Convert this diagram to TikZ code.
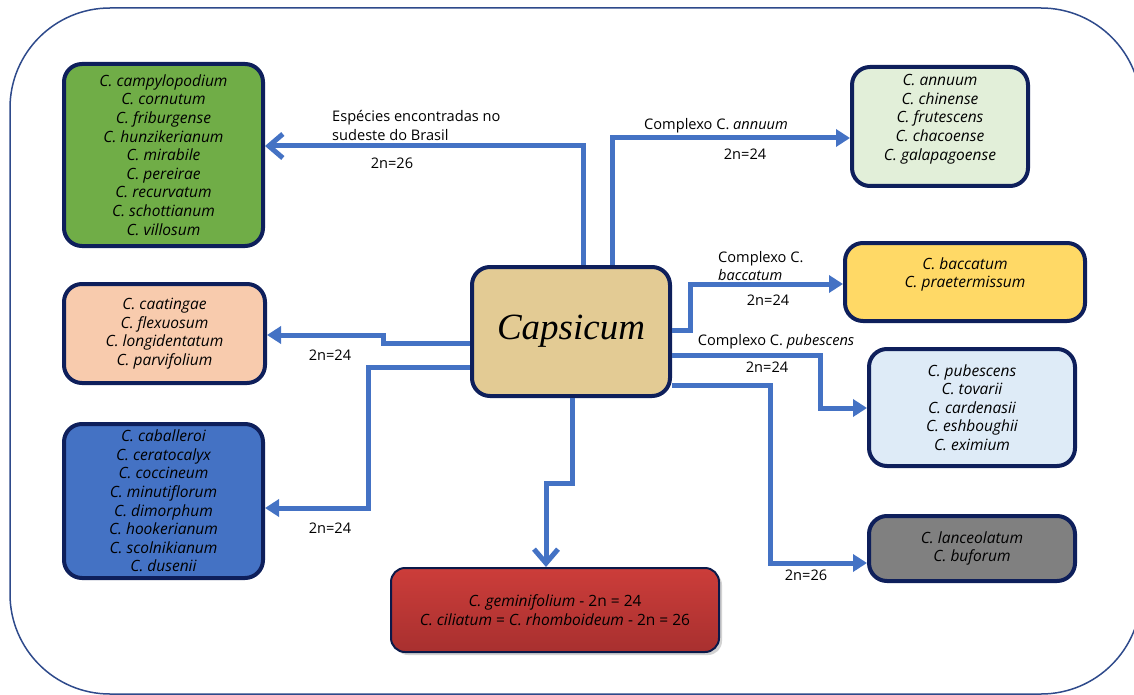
\documentclass[tikz,border=0pt]{standalone}
\usepackage{fontspec}
\setmainfont{Open Sans}
\newfontfamily\capsfont{Liberation Serif}
\usetikzlibrary{arrows.meta,shadows}
\definecolor{navy}{HTML}{0E1F5B}
\definecolor{arrblue}{HTML}{4472C4}
\definecolor{frame}{HTML}{2E4A8B}
\definecolor{cgreen}{HTML}{70AD47}
\definecolor{clgreen}{HTML}{E2EFD9}
\definecolor{cyellow}{HTML}{FFD966}
\definecolor{clblue}{HTML}{DEEBF7}
\definecolor{cgray}{HTML}{808080}
\definecolor{cblue}{HTML}{4472C4}
\definecolor{cpeach}{HTML}{F8CBAD}
\definecolor{cparch}{HTML}{E3CB94}
\definecolor{credtop}{HTML}{CC3D3A}
\definecolor{credbot}{HTML}{A8302F}
\tikzset{
  box/.style={draw=navy, line width=4pt, rounded corners=18pt, align=center,
    font=\fontsize{15.5}{18.6}\selectfont\itshape, inner sep=0pt},
  arr/.style={draw=arrblue, line width=5pt, -{Triangle[length=14pt,width=17pt]}},
  barb/.style={draw=arrblue, line width=5pt, -{Straight Barb[length=14pt,width=24pt]}},
  lbl/.style={font=\fontsize{14.6}{18.6}\selectfont, inner sep=0pt},
}
\begin{document}
\begin{tikzpicture}[x=1pt,y=-1pt]
\useasboundingbox (0,0) rectangle (1134,695);
\begin{scope}
\clip (0,0) rectangle (1134,695);
\draw[frame, line width=1.5pt, rounded corners=100pt] (10,8) rectangle (1141,694);
\end{scope}

% boxes
\node[box, fill=cgreen, minimum width=199pt, minimum height=182pt] (green) at (163.5,155)
 {C. campylopodium\\C. cornutum\\C. friburgense\\C. hunzikerianum\\C. mirabile\\C. pereirae\\C. recurvatum\\C. schottianum\\C. villosum};
\node[box, fill=clgreen, minimum width=176pt, minimum height=119pt] (annuum) at (940,126.5)
 {C. annuum\\C. chinense\\C. frutescens\\C. chacoense\\C. galapagoense\\\mbox{}};
\node[box, fill=cyellow, minimum width=240pt, minimum height=78pt] (bacc) at (965,282)
 {C. baccatum\\C. praetermissum\\\mbox{}};
\node[box, fill=clblue, minimum width=206pt, minimum height=117pt] (pub) at (972,407.5)
 {C. pubescens\\C. tovarii\\C. cardenasii\\C. eshboughii\\C. eximium};
\node[box, fill=cgray, minimum width=206pt, minimum height=65pt] (lanc) at (972,548.5)
 {C. lanceolatum\\C. buforum};
\node[box, fill=cpeach, minimum width=201pt, minimum height=99pt] (peach) at (164.5,333.5)
 {C. caatingae\\C. flexuosum\\C. longidentatum\\C. parvifolium};
\node[box, fill=cblue, minimum width=199pt, minimum height=154pt] (blue) at (163.5,501)
 {C. caballeroi\\C. ceratocalyx\\C. coccineum\\C. minutiflorum\\C. dimorphum\\C. hookerianum\\C. scolnikianum\\C. dusenii};
\node[box, draw=navy!80!black, line width=2pt, rounded corners=14pt, top color=credtop, bottom color=credbot,
  drop shadow={shadow xshift=3pt, shadow yshift=-3pt, fill=black!35},
  minimum width=328pt, minimum height=84pt] (red) at (555,610)
 {C. geminifolium \upshape - 2n = 24\\C. ciliatum \upshape = \itshape C. rhomboideum \upshape - 2n = 26};
\node[box, fill=cparch, minimum width=198pt, minimum height=129pt,
  font=\capsfont\itshape\fontsize{37}{40}\selectfont] (cap) at (571,331.5) {\raisebox{-8pt}{Capsicum}};

% bend coordinates
\coordinate (g1) at (583,146);
\coordinate (a1) at (612,138);
\coordinate (b0) at (690,330);
\coordinate (b1) at (690,284);
\coordinate (p0) at (820,355);
\coordinate (p1) at (820,408);
\coordinate (l0) at (770,385);
\coordinate (l1) at (770,563);
\coordinate (r0) at (572,483);
\coordinate (r1) at (546,483);
\coordinate (c0) at (383,343);
\coordinate (c1) at (383,335);
\coordinate (d0) at (368,367);
\coordinate (d1) at (368,508);

% connectors
\draw[barb] (cap.north -| g1) -- (g1) -- (green.east |- g1);
\draw[arr] (cap.north -| a1) -- (a1) -- (annuum.west |- a1);
\draw[arr] (cap.east |- b0) -- (b0) -- (b1) -- (bacc.west |- b1);
\draw[arr] (cap.east |- p0) -- (p0) -- (p1) -- (pub.west |- p1);
\draw[arr] (cap.east |- l0) -- (l0) -- (l1) -- (lanc.west |- l1);
\draw[barb] (cap.south -| r0) -- (r0) -- (r1) -- (red.north -| r1);
\draw[arr] (cap.west |- c0) -- (c0) -- (c1) -- (peach.east |- c1);
\draw[arr] (cap.west |- d0) -- (d0) -- (d1) -- (blue.east |- d1);

% labels
\node[lbl, anchor=west, align=left] (lg) at (332,125.5) {Espécies encontradas no\\sudeste do Brasil};
\node[lbl] (lg2) at (392,163) {2n=26};
\node[lbl] (la) at (716,126) {Complexo C. \textit{annuum}};
\node[lbl] (la2) at (745,154) {2n=24};
\node[lbl, anchor=west, align=left] (lb) at (718,266) {Complexo C.\\\textit{baccatum}};
\node[lbl] (lb2) at (768,300) {2n=24};
\node[lbl] (lp) at (776,342) {Complexo C. \textit{pubescens}};
\node[lbl] (lp2) at (767,367) {2n=24};
\node[lbl] (ll2) at (806,575) {2n=26};
\node[lbl] (lc2) at (330,355) {2n=24};
\node[lbl] (ld2) at (330,528) {2n=24};
\end{tikzpicture}
\end{document}
